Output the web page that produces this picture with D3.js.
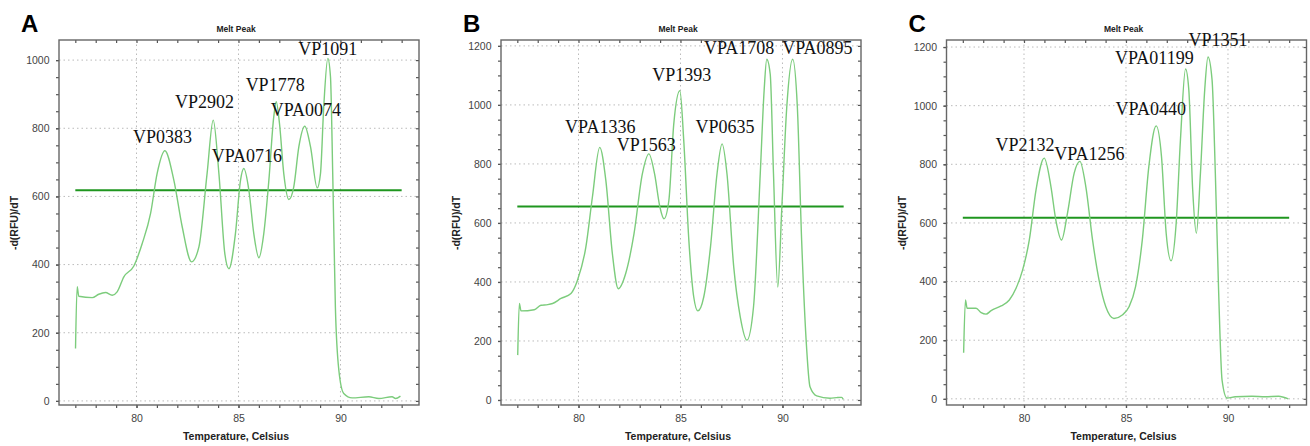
<!DOCTYPE html>
<html>
<head>
<meta charset="utf-8">
<script src="https://cdn.jsdelivr.net/npm/d3@7"></script>
<style>
  body { margin: 0; background: #fff; }
  .tick text { font-family: "Liberation Sans", Arial, sans-serif; font-size: 10.5px; fill: #444; }
  .axis path { display: none; }
  .axis line { stroke: #555; stroke-width: 1.2; }
</style>
</head>
<body>
<svg id="chart" width="1310" height="446"></svg>
<script>
// Melt peak curves (temperature in Celsius, -d(RFU)/dT)
const tempA = [77.01, 77.09, 77.17, 77.83, 78.15, 78.48, 78.81, 79.05, 79.38, 79.87, 80.28, 80.69, 81.01, 81.39, 81.83, 82.24, 82.70, 83.06, 83.46, 83.76, 84.04, 84.33, 84.53, 84.85, 85.10, 85.26, 85.51, 85.75, 86.00, 86.24, 86.49, 86.73, 86.85, 87.01, 87.22, 87.47, 87.71, 87.96, 88.25, 88.53, 88.86, 89.02, 89.18, 89.38, 89.51, 89.62, 89.75, 89.92, 90.16, 90.57, 91.39, 91.88, 92.53, 92.70, 92.94];
const dfdtA = [154, 335, 307, 303, 313, 318, 310, 320, 364, 396, 462, 550, 667, 734, 648, 511, 408, 452, 667, 824, 667, 432, 388, 491, 648, 682, 618, 491, 420, 491, 648, 834, 878, 814, 667, 591, 628, 746, 806, 746, 625, 667, 863, 1005, 951, 667, 276, 90, 22, 9, 12, 7, 12, 7, 14];

const tempB = [77.02, 77.10, 77.18, 77.83, 78.16, 78.49, 78.73, 79.14, 79.63, 79.95, 80.36, 80.68, 81.04, 81.34, 81.66, 81.95, 82.31, 82.72, 83.13, 83.45, 83.73, 83.99, 84.19, 84.43, 84.67, 84.97, 85.16, 85.41, 85.65, 85.85, 86.14, 86.47, 86.79, 87.04, 87.28, 87.61, 87.93, 88.26, 88.58, 88.91, 89.10, 89.23, 89.40, 89.56, 89.77, 89.97, 90.21, 90.50, 90.73, 90.94, 91.16, 91.35, 91.68, 92.33, 92.65, 92.90, 92.98];
const dfdtB = [152, 327, 302, 306, 321, 323, 327, 344, 361, 406, 518, 687, 856, 744, 496, 377, 428, 563, 766, 834, 766, 654, 614, 676, 935, 1048, 879, 541, 349, 302, 349, 518, 766, 868, 766, 451, 282, 203, 315, 766, 1048, 1155, 1104, 766, 383, 654, 992, 1155, 992, 541, 203, 45, 14, 6, 8, 9, 2];

const tempC = [77.04, 77.13, 77.21, 77.65, 77.90, 78.14, 78.39, 78.88, 79.28, 79.61, 79.93, 80.26, 80.59, 80.99, 81.32, 81.56, 81.84, 82.13, 82.46, 82.74, 83.03, 83.36, 83.68, 84.01, 84.41, 84.82, 85.15, 85.47, 85.80, 86.12, 86.48, 86.74, 86.97, 87.21, 87.46, 87.67, 87.92, 88.08, 88.27, 88.45, 88.65, 88.86, 89.02, 89.22, 89.38, 89.54, 89.71, 89.95, 90.36, 91.17, 91.82, 92.48, 92.96];
const dfdtC = [157, 337, 309, 309, 294, 289, 301, 317, 337, 377, 439, 542, 713, 821, 724, 610, 542, 633, 770, 810, 724, 542, 405, 314, 274, 286, 314, 383, 542, 792, 931, 827, 565, 471, 599, 884, 1125, 1054, 713, 565, 770, 1054, 1166, 1088, 770, 371, 64, 3, 7, 9, 7, 9, 0];

// threshold lines
const thresholds = [618, 656, 618];
const thresholdSpan = [77, 93];

// peak labels: left edge temperature and baseline value
const peakNamesA = ['VP0383', 'VP2902', 'VPA0716', 'VP1778', 'VPA0074', 'VP1091'];
const peakTempA = [79.83, 81.89, 83.69, 85.35, 86.58, 87.93];
const peakValA = [757, 860, 702, 910, 836, 1015];

const peakNamesB = ['VPA1336', 'VP1563', 'VP1393', 'VP0635', 'VPA1708', 'VPA0895'];
const peakTempB = [79.34, 81.87, 83.62, 85.74, 86.15, 89.99];
const peakValB = [906, 844, 1082, 906, 1173, 1173];

const peakNamesC = ['VP2132', 'VPA1256', 'VPA0440', 'VPA01199', 'VP1351'];
const peakTempC = [78.60, 81.48, 84.49, 84.46, 88.06];
const peakValC = [844, 815, 969, 1143, 1205];

const xTicks = [80, 85, 90];
const panelLetters = ['A', 'B', 'C'];

const panels = [
  {letter: panelLetters[0], left: 59, yDomain: [-12, 1059], yTop: 1000,
   temp: tempA, dfdt: dfdtA, thr: thresholds[0], names: peakNamesA, lt: peakTempA, lv: peakValA},
  {letter: panelLetters[1], left: 501, yDomain: [-17, 1220], yTop: 1200,
   temp: tempB, dfdt: dfdtB, thr: thresholds[1], names: peakNamesB, lt: peakTempB, lv: peakValB},
  {letter: panelLetters[2], left: 946.5, yDomain: [-21, 1224], yTop: 1200,
   temp: tempC, dfdt: dfdtC, thr: thresholds[2], names: peakNamesC, lt: peakTempC, lv: peakValC}
];

const svg = d3.select('#chart');
const plotTop = 40, plotH = 365, plotW = 360;
const sans = '"Liberation Sans", Arial, sans-serif';

panels.forEach(p => {
  const x = d3.scaleLinear().domain([76.2, 93.85]).range([p.left, p.left + plotW]);
  const y = d3.scaleLinear().domain(p.yDomain).range([plotTop + plotH, plotTop]);
  const g = svg.append('g');
  const majorY = d3.range(0, p.yTop + 1, 200);
  const minorY = d3.range(0, p.yTop + 1, 50).filter(v => v <= p.yDomain[1]);
  const minorX = d3.range(77, 94, 1);

  // dotted grid
  g.selectAll('line.gx').data(xTicks).enter().append('line')
    .attr('x1', d => x(d)).attr('x2', d => x(d)).attr('y1', plotTop).attr('y2', plotTop + plotH)
    .attr('stroke', '#bbb').attr('stroke-dasharray', '1.5,3');
  g.selectAll('line.gy').data(majorY).enter().append('line')
    .attr('x1', p.left).attr('x2', p.left + plotW).attr('y1', d => y(d)).attr('y2', d => y(d))
    .attr('stroke', '#bbb').attr('stroke-dasharray', '1.5,3');

  // minor ticks on all four sides
  g.append('g').attr('class', 'axis').attr('transform', `translate(0,${plotTop + plotH})`)
    .call(d3.axisBottom(x).tickValues(minorX).tickSize(3).tickFormat(''));
  g.append('g').attr('class', 'axis').attr('transform', `translate(0,${plotTop})`)
    .call(d3.axisTop(x).tickValues(minorX).tickSize(-3).tickFormat(''));
  g.append('g').attr('class', 'axis').attr('transform', `translate(${p.left},0)`)
    .call(d3.axisLeft(y).tickValues(minorY).tickSize(3).tickFormat(''));
  g.append('g').attr('class', 'axis').attr('transform', `translate(${p.left + plotW},0)`)
    .call(d3.axisRight(y).tickValues(minorY).tickSize(-3).tickFormat(''));

  // labelled ticks
  g.append('g').attr('class', 'axis').attr('transform', `translate(0,${plotTop + plotH})`)
    .call(d3.axisBottom(x).tickValues(xTicks).tickSize(3).tickPadding(7).tickFormat(d3.format('d')));
  g.append('g').attr('class', 'axis').attr('transform', `translate(${p.left},0)`)
    .call(d3.axisLeft(y).tickValues(majorY).tickSize(3).tickPadding(6.5).tickFormat(d3.format('d')));

  // frame
  g.append('rect').attr('x', p.left).attr('y', plotTop).attr('width', plotW).attr('height', plotH)
    .attr('fill', 'none').attr('stroke', '#666').attr('stroke-width', 1.4);

  // threshold
  g.append('line')
    .attr('x1', x(thresholdSpan[0])).attr('x2', x(thresholdSpan[1]))
    .attr('y1', y(p.thr)).attr('y2', y(p.thr))
    .attr('stroke', '#1f961f').attr('stroke-width', 2);

  // curve
  const pts = p.temp.map((t, i) => [t, p.dfdt[i]]);
  g.append('path').datum(pts)
    .attr('d', d3.line().x(d => x(d[0])).y(d => y(d[1])).curve(d3.curveMonotoneX))
    .attr('fill', 'none').attr('stroke', '#7ccc7c').attr('stroke-width', 1.4);

  // peak labels
  g.selectAll('text.peak').data(p.names).enter().append('text')
    .attr('x', (d, i) => x(p.lt[i])).attr('y', (d, i) => y(p.lv[i]))
    .attr('font-family', '"Liberation Serif", "Times New Roman", serif')
    .attr('font-size', 18).attr('fill', '#111').text(d => d);

  // titles
  g.append('text').attr('x', p.left + plotW / 2 - 3).attr('y', 32)
    .attr('text-anchor', 'middle').attr('font-family', sans).attr('font-weight', 'bold')
    .attr('font-size', 8.5).attr('fill', '#222').text('Melt Peak');
  g.append('text').attr('x', p.left + plotW / 2 - 3).attr('y', 440)
    .attr('text-anchor', 'middle').attr('font-family', sans).attr('font-weight', 'bold')
    .attr('font-size', 10.5).attr('fill', '#222').text('Temperature, Celsius');
  g.append('text')
    .attr('transform', `translate(${p.left - 41},223) rotate(-90)`)
    .attr('text-anchor', 'middle').attr('font-family', sans).attr('font-weight', 'bold')
    .attr('font-size', 10.5).attr('fill', '#222').text('-d(RFU)/dT');
  g.append('text').attr('x', p.left - 38).attr('y', 32)
    .attr('font-family', sans).attr('font-weight', 'bold')
    .attr('font-size', 24).attr('fill', '#000').text(p.letter);
});
</script>
</body>
</html>
